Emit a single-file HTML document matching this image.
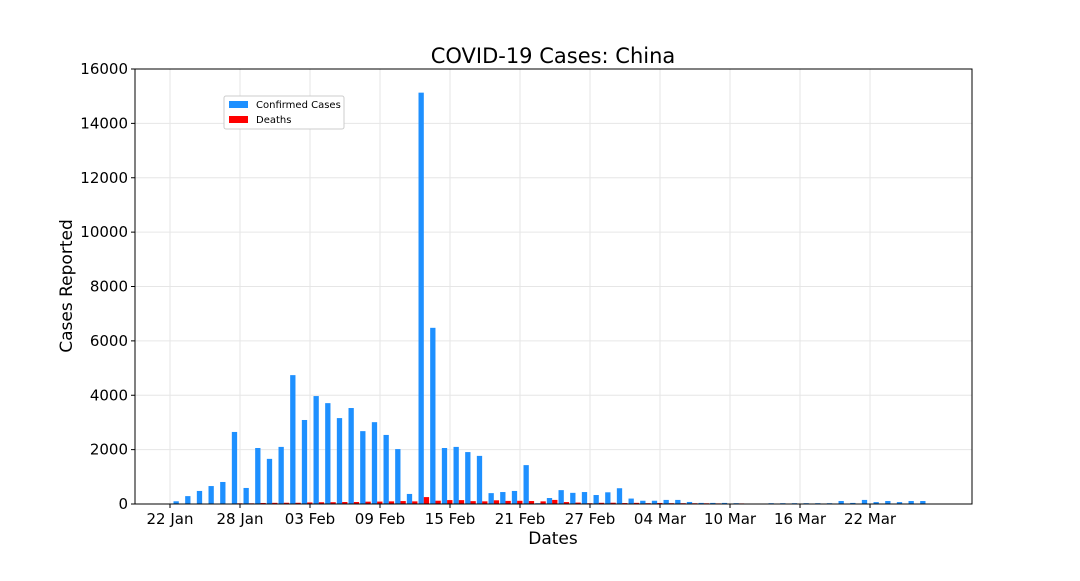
<!DOCTYPE html>
<html><head><meta charset="utf-8"><style>
body{margin:0;background:#fff;font-family:"Liberation Sans","DejaVu Sans",sans-serif}
svg text{font-family:"DejaVu Sans","Liberation Sans",sans-serif}
</style></head><body>
<svg id="c" width="1080" height="576" xmlns="http://www.w3.org/2000/svg">
<rect width="1080" height="576" fill="#fff"/>
<g id="grid"></g><g id="bars"></g><g id="axes"></g>
</svg>
<script>
const tickLabels=["22 Jan","28 Jan","03 Feb","09 Feb","15 Feb","21 Feb","27 Feb","04 Mar","10 Mar","16 Mar","22 Mar"];
const yTicks=[0,2000,4000,6000,8000,10000,12000,14000,16000];
const confirmed=[100,290,480,660,810,2650,590,2060,1660,2100,4740,3090,3970,3710,3160,3530,2680,3010,2540,2020,370,15130,6480,2060,2100,1910,1770,400,440,480,1430,30,220,510,410,440,330,430,580,200,120,120,150,150,75,40,40,40,30,0,0,30,30,30,30,30,30,110,40,150,70,110,70,110,110];
const deaths=[0,1,8,16,14,26,26,38,43,46,45,57,64,66,73,73,86,89,97,108,97,254,121,143,142,105,98,136,114,118,109,97,150,71,52,29,44,47,35,42,31,38,31,30,28,27,23,17,22,11,7,14,10,14,13,11,8,3,7,6,9,7,4,6,5];

const NS="http://www.w3.org/2000/svg";
const L=135,R=972,T=69,B=504;
const X=d=>170+d*11.667;
const Y=v=>B-(v/16000)*(B-T);
function mk(tag,attrs,parent,txt){const e=document.createElementNS(NS,tag);for(const k in attrs)e.setAttribute(k,attrs[k]);if(txt!==undefined)e.textContent=txt;parent.appendChild(e);return e;}
const grid=document.getElementById('grid'),bars=document.getElementById('bars'),axes=document.getElementById('axes');
yTicks.forEach(v=>{
  const g=mk('line',{x1:L,x2:R,y1:Y(v),y2:Y(v),stroke:'#e6e6e6','stroke-width':1},grid);
  
  
  const t=mk('line',{x1:L-4,x2:L,y1:Y(v),y2:Y(v),stroke:'#000'},axes);
  
  
  const lb=mk('text',{x:L-7,y:Y(v)+5,'text-anchor':'end','font-size':15},axes,String(v));
  
  
});
tickLabels.forEach((s,i)=>{
  const x=X(i*6);
  const g=mk('line',{x1:x,x2:x,y1:T,y2:B,stroke:'#e6e6e6'},grid);
  
  
  const t=mk('line',{x1:x,x2:x,y1:B,y2:B+4,stroke:'#000'},axes);
  
  
  const lb=mk('text',{x:x,y:B+20,'text-anchor':'middle','font-size':15},axes,s);
  
  
});
confirmed.forEach((v,i)=>{
  const r=mk('rect',{x:X(i)+3.5,y:Y(v),width:5.3,height:B-Y(v),fill:'#1e90ff'},bars);
  
  
});
deaths.forEach((v,i)=>{
  const r=mk('rect',{x:X(i)+8.8,y:Y(v),width:5.3,height:B-Y(v),fill:'#ff0000'},bars);
  
  
});
const frame=mk('rect',{x:L,y:T,width:R-L,height:B-T,fill:'none',stroke:'#000','stroke-width':1},axes);


const title=mk('text',{x:553,y:63,'text-anchor':'middle','font-size':21},axes,'COVID-19 Cases: China');


const xt=mk('text',{x:553,y:544,'text-anchor':'middle','font-size':17},axes,'Dates');


const yt=mk('text',{x:0,y:0,'text-anchor':'middle','font-size':17,transform:'translate(72,286) rotate(-90)'},axes,'Cases Reported');


const lg=mk('g',{},axes);


mk('rect',{x:224,y:96,width:120,height:33,fill:'#fff',stroke:'#ccc',rx:2},lg);
const e1=mk('g',{},lg);


mk('rect',{x:229,y:101,width:19,height:7,fill:'#1e90ff'},e1);
mk('text',{x:256,y:108,'font-size':10},e1,'Confirmed Cases');
const e2=mk('g',{},lg);


mk('rect',{x:229,y:116,width:19,height:7,fill:'#ff0000'},e2);
mk('text',{x:256,y:123,'font-size':10},e2,'Deaths');
</script>
</body></html>
